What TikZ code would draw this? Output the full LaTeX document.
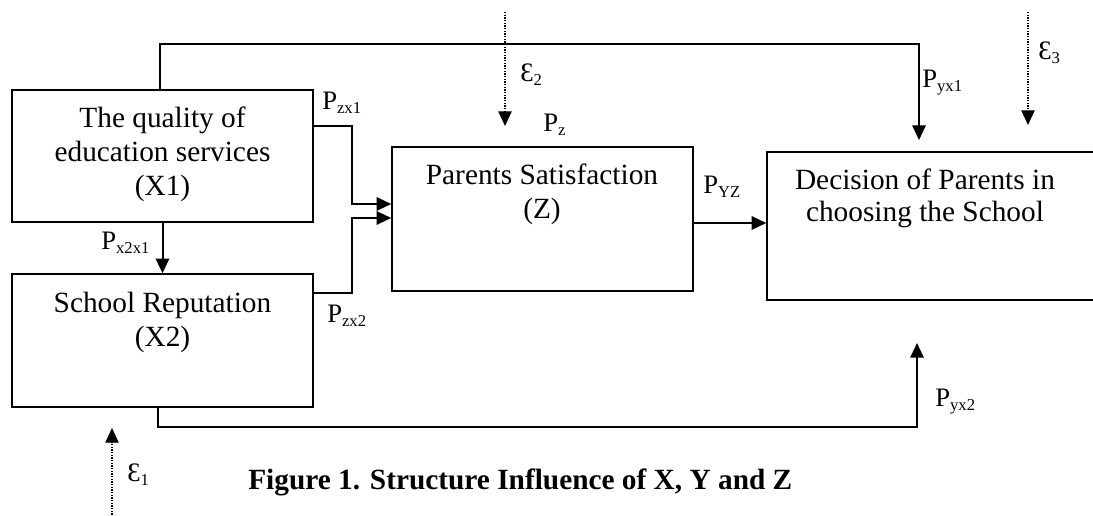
\documentclass[tikz,border=0pt]{standalone}
\usepackage{fontspec}
\setmainfont{Liberation Serif}
\usetikzlibrary{arrows.meta,fit}
\newcommand{\Sb}[1]{\raisebox{-2.4pt}{\fontsize{12.5}{12.5}\selectfont #1}}
\begin{document}
\begin{tikzpicture}[x=0.75pt,y=-0.75pt,
  box/.style={draw,line width=1.1pt,inner sep=0pt,rectangle},
  conn/.style={line width=1.5pt,-{Triangle[length=11pt,width=10pt]}},
  eps/.style={line width=0.9pt,dash pattern=on 1pt off 1pt,-{Triangle[length=11pt,width=10pt]}},
  txt/.style={font=\fontsize{22}{25}\selectfont,inner sep=0pt,anchor=base},
  lab/.style={font=\fontsize{20}{22}\selectfont,inner sep=0pt,anchor=base west}]
\useasboundingbox (0,0) rectangle (1093,516);
\clip (0,0) rectangle (1093,516);

% boxes
\node[box,fit={(12,90) (313,222)}] (x1) {};
\node[box,fit={(12,274) (313,407)}] (x2) {};
\node[box,fit={(392,147) (693,291)}] (z) {};
\node[box,fit={(767,152) (1110,300)}] (yb) {};

% box texts
\node[txt] (x1a) at (162.5,128) {The quality of};
\node[txt] (x1b) at (162.5,162) {education services};
\node[txt] (x1c) at (162.5,196) {(X1)};
\node[txt] (x2a) at (162.5,313) {School Reputation};
\node[txt] (x2b) at (162.5,347) {(X2)};
\node[txt] (za) at (542,185) {Parents Satisfaction};
\node[txt] (zb) at (542,219) {(Z)};
\node[txt] (ya) at (925,190) {Decision of Parents in};
\node[txt] (yb2) at (925,222) {choosing the School};

% free ends
\coordinate (inY1) at (919,140);
\coordinate (inY2) at (917,343);
\coordinate (e1s) at (112,520);
\coordinate (e1t) at (112,428);
\coordinate (e2s) at (505,12);
\coordinate (e2t) at (505,126);
\coordinate (e3s) at (1028,12);
\coordinate (e3t) at (1028,125);

% connectors
\draw[conn] ([xshift=-1.9pt]x1.north) |- (919,44) -- (inY1);
\draw[conn] (x1.south) -- (x2.north);
\draw[conn] (x1.east |- 0,126) -| (352,204) -- (z.west |- 0,204);
\draw[conn] (x2.east |- 0,293) -| (352,218) -- (z.west |- 0,218);
\draw[conn] (z.east |- 0,223) -- (yb.west |- 0,223);
\draw[conn] ([xshift=-3.4pt]x2.south) |- (917,427) -- (inY2);
\draw[eps] (e1s) -- (e1t);
\draw[eps] (e2s) -- (e2t);
\draw[eps] (e3s) -- (e3t);

% labels
\node[lab] (lzx1) at (322,110) {P\Sb{zx1}};
\node[lab] (lx2x1) at (101,250) {P\Sb{x2x1}};
\node[lab] (lzx2) at (327,323) {P\Sb{zx2}};
\node[lab] (lz) at (543,132) {P\Sb{z}};
\node[lab] (lyz) at (703,194) {P\Sb{YZ}};
\node[lab] (lyx1) at (922,88) {P\Sb{yx1}};
\node[lab] (lyx2) at (935,407) {P\Sb{yx2}};
\node[lab] (le1) at (127,482) {Ɛ\Sb{1}};
\node[lab] (le2) at (520,82) {Ɛ\Sb{2}};
\node[lab] (le3) at (1038,60) {Ɛ\Sb{3}};

% caption
\node[font=\bfseries\fontsize{22}{24}\selectfont,anchor=base west,inner sep=0pt] (cap) at (248,489) {Figure 1. Structure Influence of X, Y and Z};
\end{tikzpicture}
\end{document}
